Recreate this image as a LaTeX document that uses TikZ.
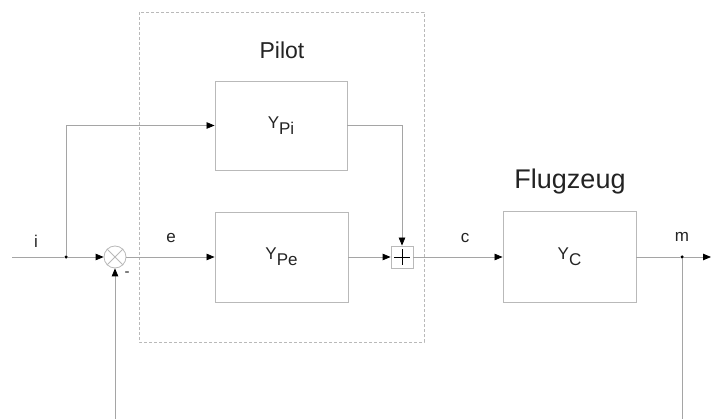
\documentclass[tikz,border=0pt]{standalone}
\usepackage{fontspec}
\setmainfont{Liberation Sans}
\usetikzlibrary{arrows.meta}
\definecolor{linegray}{RGB}{165,165,165}
\definecolor{boxgray}{RGB}{185,185,185}
\definecolor{txtgray}{RGB}{35,35,35}
\begin{document}
\begin{tikzpicture}[x=1pt,y=-1pt,
  conn/.style={draw=linegray,line width=0.8pt},
  arr/.style={conn,-{Triangle[length=8pt,width=6.5pt,color=black]}},
  blockbox/.style={draw=boxgray,line width=0.9pt,rectangle,inner sep=0pt,text=txtgray,font=\fontsize{17}{19}\selectfont},
  lbl/.style={text=txtgray,font=\fontsize{17}{19}\selectfont,inner sep=0pt},
  title/.style={text=txtgray,inner sep=0pt},
  jdot/.style={circle,fill=black,inner sep=0pt,minimum size=3.5pt}
]
\useasboundingbox (0,0) rectangle (711,419);
% Pilot dashed frame
\draw[boxgray,dashed,dash pattern=on 3pt off 2pt,line width=0.8pt] (139,12) rectangle (424,342);
\node[title,font=\fontsize{23}{26}\selectfont] (pilot) at (282,50) {Pilot};
\node[title,font=\fontsize{27}{30}\selectfont] (flug) at (570,182) {Flugzeug};
% blocks
\node[blockbox,minimum width=132pt,minimum height=89pt] (ypi) at (281,125.5) {Y\raisebox{-6pt}{Pi}};
\node[blockbox,minimum width=133pt,minimum height=90pt] (ype) at (281.5,257) {Y\raisebox{-6pt}{Pe}};
\node[blockbox,minimum width=133pt,minimum height=91pt] (yc) at (569.5,257) {Y\raisebox{-6pt}{C}};
% summing circle
\node[draw=boxgray,circle,line width=0.8pt,minimum size=22pt,inner sep=0pt] (sum) at (115,257) {};
\draw[boxgray,line width=0.8pt] (sum.north west) -- (sum.south east) (sum.north east) -- (sum.south west);
% plus box
\node[draw=boxgray,rectangle,line width=0.8pt,minimum size=22pt,inner sep=0pt] (plus) at (402,257) {};
\draw[black,line width=0.9pt] ([xshift=-8pt]plus.center) -- ([xshift=8pt]plus.center)
  ([yshift=-8pt]plus.center) -- ([yshift=8pt]plus.center);
% coordinates
\coordinate (in) at (12,257);
\node[jdot] (ji) at (66,257) {};
\node[jdot] (jm) at (682,257) {};
\coordinate (out) at (711,257);
\coordinate (fbl) at (115,419);
\coordinate (fbr) at (682,419);
% connectors
\draw[conn] (in) -- (ji);
\draw[arr] (ji) -- (sum.west);
\draw[arr] (ji) |- (ypi.west);
\draw[arr] (sum.east) -- (ype.west);
\draw[arr] (ype.east) -- (plus.west);
\draw[arr] (ypi.east) -| (plus.north);
\draw[arr] (plus.east) -- (yc.west);
\draw[conn] (yc.east) -- (jm);
\draw[arr] (jm) -- (out);
\draw[conn] (jm) -- (fbr);
\draw[arr] (fbl) -- (sum.south);
% labels
\node[lbl] (li) at (36,241) {i};
\node[lbl] (le) at (171,238) {e};
\node[lbl] (lc) at (465,238) {c};
\node[lbl] (lm) at (682,237) {m};
\node[lbl,font=\fontsize{15}{17}\selectfont] (lminus) at (127,274) {-};
\end{tikzpicture}
\end{document}
